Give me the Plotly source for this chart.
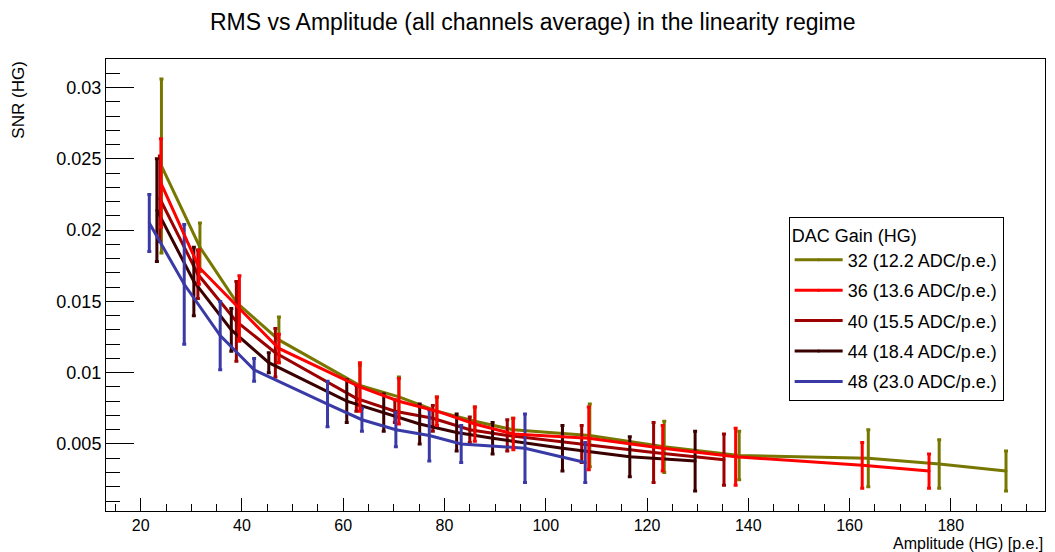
import plotly.graph_objects as go

# ---- data ----
amp_32 = [24.1, 31.7, 39.0, 47.3, 63.3, 71.0, 78.5, 86.0, 93.5, 108.7, 123.4, 138.2, 163.7, 177.7, 190.9]
snr_32 = [0.0245, 0.0188, 0.0149, 0.0123, 0.0091, 0.0083, 0.0073, 0.0066, 0.0060, 0.0056, 0.0048, 0.0042, 0.0040, 0.0036, 0.0031]
err_32 = [0.0061, 0.0017, 0.0015, 0.0016, 0.0014, 0.0014, 0.0010, 0.0010, 0.0008, 0.0022, 0.0018, 0.0017, 0.0020, 0.0017, 0.0014]

amp_36 = [24.0, 31.5, 39.5, 47.3, 63.3, 71.0, 78.5, 86.0, 93.6, 108.5, 123.1, 137.5, 162.5, 175.7]
snr_36 = [0.0233, 0.0174, 0.0145, 0.0117, 0.0090, 0.0080, 0.0073, 0.0064, 0.0057, 0.0054, 0.0047, 0.0041, 0.0035, 0.0031]
err_36 = [0.0031, 0.0012, 0.0023, 0.0010, 0.0017, 0.0016, 0.0010, 0.0012, 0.0011, 0.0022, 0.0016, 0.0020, 0.0016, 0.0012]

amp_40 = [23.8, 31.3, 38.9, 46.6, 62.6, 70.2, 77.7, 85.0, 92.4, 107.1, 121.3, 135.2]
snr_40 = [0.0222, 0.0169, 0.0136, 0.0114, 0.0082, 0.0073, 0.0068, 0.0060, 0.0056, 0.0050, 0.0044, 0.0039]
err_40 = [0.0030, 0.0017, 0.0028, 0.0017, 0.0009, 0.0008, 0.0009, 0.0009, 0.0011, 0.0013, 0.0021, 0.0018]

amp_44 = [23.2, 30.5, 37.9, 45.3, 60.7, 68.0, 75.1, 82.4, 89.5, 103.3, 116.6, 129.5]
snr_44 = [0.0214, 0.0164, 0.0130, 0.0107, 0.0080, 0.0072, 0.0064, 0.0058, 0.0054, 0.0047, 0.0041, 0.0038]
err_44 = [0.0036, 0.0024, 0.0015, 0.0007, 0.0015, 0.0013, 0.0014, 0.0013, 0.0011, 0.0016, 0.0014, 0.0021]

amp_48 = [21.7, 28.6, 35.7, 42.4, 56.9, 63.7, 70.4, 77.0, 83.3, 95.9, 107.8]
snr_48 = [0.0205, 0.0162, 0.0126, 0.0102, 0.0078, 0.0067, 0.0060, 0.0056, 0.0050, 0.0047, 0.0037]
err_48 = [0.0020, 0.0042, 0.0024, 0.0008, 0.0016, 0.0008, 0.0012, 0.0018, 0.0013, 0.0024, 0.0014]

series_names = ["32 (12.2 ADC/p.e.)", "36 (13.6 ADC/p.e.)", "40 (15.5 ADC/p.e.)",
                "44 (18.4 ADC/p.e.)", "48 (23.0 ADC/p.e.)"]
series_colors = ["#777700", "#ff0000", "#9c0000", "#3a0000", "#3a3aa6"]

x_tickvals = [20, 40, 60, 80, 100, 120, 140, 160, 180]
x_ticktext = ["20", "40", "60", "80", "100", "120", "140", "160", "180"]
y_tickvals = [0.005, 0.01, 0.015, 0.02, 0.025, 0.03]
y_ticktext = ["0.005", "0.01", "0.015", "0.02", "0.025", "0.03"]

title_text = "RMS vs Amplitude (all channels average) in the linearity regime"
x_title = "Amplitude (HG) [p.e.]"
y_title = "SNR (HG)"
legend_title = "DAC Gain (HG)"

FONT = "Liberation Sans, Arial, sans-serif"

series = [
    (amp_32, snr_32, err_32),
    (amp_36, snr_36, err_36),
    (amp_40, snr_40, err_40),
    (amp_44, snr_44, err_44),
    (amp_48, snr_48, err_48),
]
# drawing order (red on top), legend order kept via legendrank
draw_order = [0, 2, 3, 4, 1]

fig = go.Figure()
for i in draw_order:
    xs, ys, es = series[i]
    col = series_colors[i]
    fig.add_trace(go.Scatter(
        x=xs, y=ys, mode="lines+markers", name=series_names[i],
        legendrank=i + 1, legendgroup=f"g{i}",
        line=dict(color=col, width=3),
        marker=dict(color=col, size=3),
        error_y=dict(type="data", array=es, visible=True, color=col, thickness=3, width=2),
    ))

fig.update_layout(
    width=1055, height=552,
    margin=dict(l=106, r=10, t=59, b=41),
    paper_bgcolor="white", plot_bgcolor="white",
    font=dict(family=FONT, color="black", size=16),
    title=dict(text=title_text, x=0.505, xanchor="center", y=0.975, yref="container",
               yanchor="top", font=dict(size=23, family=FONT, color="black")),
    showlegend=True,
    legend=dict(
        x=0.727, y=0.650, xanchor="left", yanchor="top",
        bgcolor="white", bordercolor="black", borderwidth=1,
        font=dict(size=18, family=FONT, color="black"),
        title=dict(text=legend_title, font=dict(size=18, family=FONT, color="black")),
        tracegroupgap=4, itemwidth=48,
    ),
)
fig.update_xaxes(
    range=[13.15, 198.6], showgrid=False, zeroline=False, automargin=False,
    showline=True, linecolor="black", linewidth=1, mirror=True,
    ticks="inside", ticklen=13, tickcolor="black", tickwidth=1,
    tickvals=x_tickvals, ticktext=x_ticktext,
    minor=dict(ticks="inside", ticklen=7, dtick=5, tick0=0, tickcolor="black", showgrid=False),
    tickfont=dict(size=16, family=FONT),
)
fig.update_yaxes(
    range=[0.0003, 0.0320], showgrid=False, zeroline=False, automargin=False,
    showline=True, linecolor="black", linewidth=1, mirror=True,
    ticks="inside", ticklen=28, tickcolor="black", tickwidth=1,
    tickvals=y_tickvals, ticktext=y_ticktext,
    minor=dict(ticks="inside", ticklen=14, dtick=0.001, tick0=0, tickcolor="black", showgrid=False),
    tickfont=dict(size=18, family=FONT),
)
fig.add_annotation(text=x_title, xref="paper", yref="paper", x=1.0, y=-0.071,
                   xanchor="right", yanchor="middle", showarrow=False,
                   font=dict(size=16, family=FONT, color="black"))
fig.add_annotation(text=y_title, xref="paper", yref="paper", x=-0.093, y=0.999,
                   xanchor="center", yanchor="top", textangle=-90, showarrow=False,
                   font=dict(size=17, family=FONT, color="black"))

fig.write_html(
    "out.html",
    config={"displayModeBar": False},
    post_script="document.body.style.margin='0';document.body.style.overflow='hidden';",
)
